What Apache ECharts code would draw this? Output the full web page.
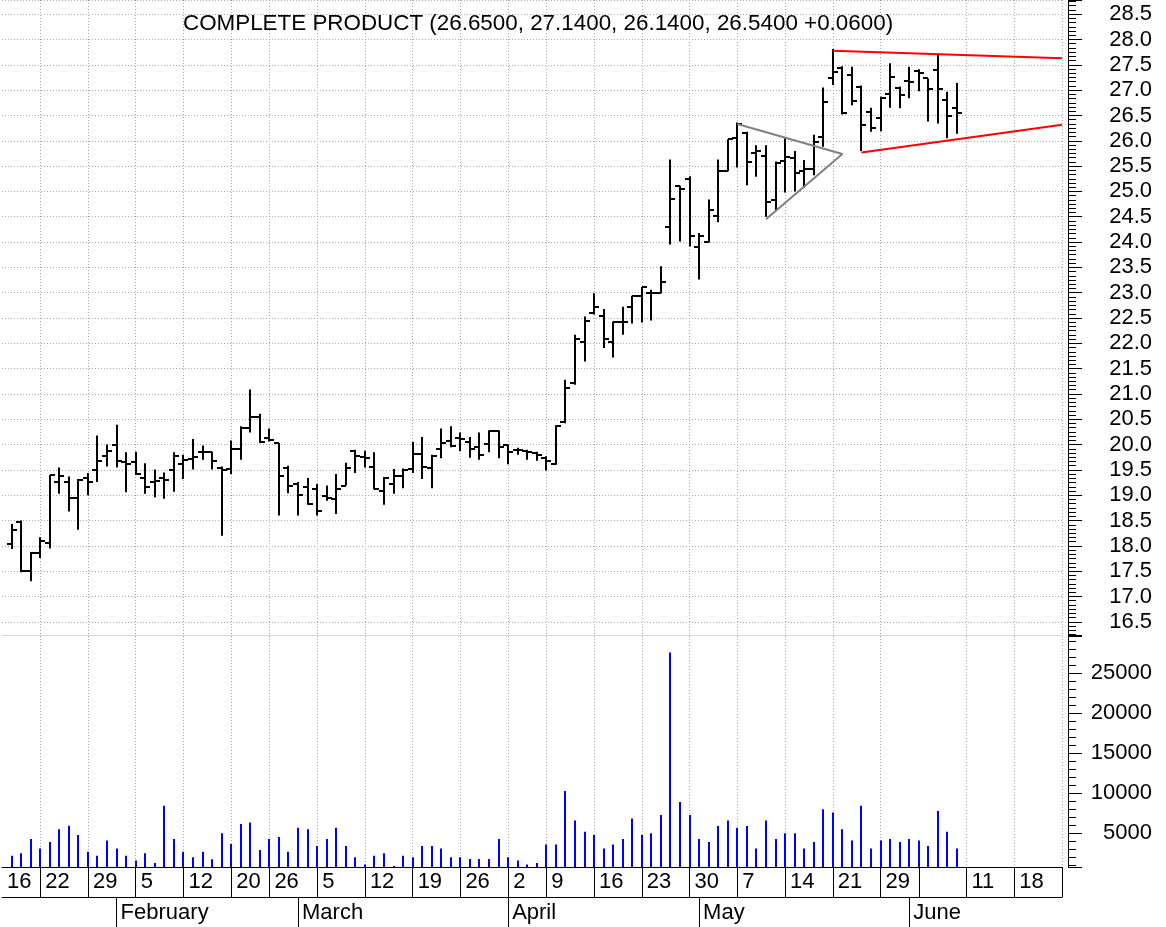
<!DOCTYPE html>
<html>
<head>
<meta charset="utf-8">
<title>Complete Product</title>
<script src="https://cdn.jsdelivr.net/npm/echarts@6/dist/echarts.min.js"></script>
<style>
  html, body { margin: 0; padding: 0; background: #fff; }
  #chart { width: 1166px; height: 927px; }
</style>
</head>
<body>
<div id="chart"></div>
<script>
// trading days on the axis (first one and the last three weeks carry no bar)
const days = [
  '2018-01-16', '2018-01-17', '2018-01-18', '2018-01-19',
  '2018-01-22', '2018-01-23', '2018-01-24', '2018-01-25', '2018-01-26',
  '2018-01-29', '2018-01-30', '2018-01-31', '2018-02-01', '2018-02-02',
  '2018-02-05', '2018-02-06', '2018-02-07', '2018-02-08', '2018-02-09',
  '2018-02-12', '2018-02-13', '2018-02-14', '2018-02-15', '2018-02-16',
  '2018-02-20', '2018-02-21', '2018-02-22', '2018-02-23',
  '2018-02-26', '2018-02-27', '2018-02-28', '2018-03-01', '2018-03-02',
  '2018-03-05', '2018-03-06', '2018-03-07', '2018-03-08', '2018-03-09',
  '2018-03-12', '2018-03-13', '2018-03-14', '2018-03-15', '2018-03-16',
  '2018-03-19', '2018-03-20', '2018-03-21', '2018-03-22', '2018-03-23',
  '2018-03-26', '2018-03-27', '2018-03-28', '2018-03-29', '2018-03-30',
  '2018-04-02', '2018-04-03', '2018-04-04', '2018-04-05',
  '2018-04-09', '2018-04-10', '2018-04-11', '2018-04-12', '2018-04-13',
  '2018-04-16', '2018-04-17', '2018-04-18', '2018-04-19', '2018-04-20',
  '2018-04-23', '2018-04-24', '2018-04-25', '2018-04-26', '2018-04-27',
  '2018-04-30', '2018-05-01', '2018-05-02', '2018-05-03', '2018-05-04',
  '2018-05-07', '2018-05-08', '2018-05-09', '2018-05-10', '2018-05-11',
  '2018-05-14', '2018-05-15', '2018-05-16', '2018-05-17', '2018-05-18',
  '2018-05-21', '2018-05-22', '2018-05-23', '2018-05-24', '2018-05-25',
  '2018-05-29', '2018-05-30', '2018-05-31', '2018-06-01',
  '2018-06-04', '2018-06-05', '2018-06-06', '2018-06-07', '2018-06-08',
  '2018-06-11', '2018-06-12', '2018-06-13', '2018-06-14', '2018-06-15',
  '2018-06-18', '2018-06-19', '2018-06-20', '2018-06-21', '2018-06-22',
  '2018-06-25'
]

const weekTicks = [
  '2018-01-16', '2018-01-22', '2018-01-29', '2018-02-05', '2018-02-12', '2018-02-20',
  '2018-02-26', '2018-03-05', '2018-03-12', '2018-03-19', '2018-03-26', '2018-04-02',
  '2018-04-09', '2018-04-16', '2018-04-23', '2018-04-30', '2018-05-07', '2018-05-14',
  '2018-05-21', '2018-05-29', '2018-06-04', '2018-06-11', '2018-06-18', '2018-06-25'
]
const weekLabels = [
  '16', '22', '29', '5', '12', '20', '26', '5', '12', '19', '26', '2',
  '9', '16', '23', '30', '7', '14', '21', '29', '', '11', '18', ''
]
const monthTicks = ['2018-02-01', '2018-03-01', '2018-04-02', '2018-05-01', '2018-06-01']
const monthLabels = ['February', 'March', 'April', 'May', 'June']

// daily bars, from 2018-01-17
const opens = [
  18.03, 18.47, 17.51, 17.86, 18.05, 19.27, 19.27, 18.95, 19.34, 19.49,
  19.78, 19.99, 19.65, 19.66, 19.34, 19.26, 19.34, 19.49, 19.62, 19.72,
  19.86, 19.85, 19.53, 19.52, 19.91, 20.32, 20.54, 20.14, 20.03, 19.53,
  19.22, 19.16, 19.13, 18.99, 18.93, 19.19, 19.88, 19.75, 19.55, 19.09,
  19.22, 19.38, 19.52, 19.82, 19.53, 19.91, 20.08, 20.14, 20.05, 19.95,
  20.01, 20.26, 19.99, 19.90, 19.88, 19.84, 19.73, 19.62, 20.45, 21.22,
  22.02, 22.60, 22.53, 22.02, 22.43, 22.72, 22.93, 22.99, 22.99, 24.29,
  25.11, 25.25, 23.91, 24.01, 24.51, 25.41, 26.06, 26.15, 25.76, 25.70,
  24.83, 25.60, 25.65, 25.40, 25.45, 26.08, 27.23, 27.44, 27.30, 27.07,
  26.57, 26.45, 26.93, 27.05, 27.18, 27.38, 27.23, 27.39, 26.80, 26.65
]
const highs = [
  18.43, 18.50, 17.88, 18.17, 19.40, 19.55, 19.37, 19.32, 19.44, 20.18,
  20.00, 20.39, 19.85, 19.86, 19.63, 19.51, 19.45, 19.85, 19.80, 20.11,
  19.98, 19.86, 19.57, 20.08, 20.36, 21.09, 20.61, 20.32, 20.03, 19.58,
  19.26, 19.34, 19.22, 19.19, 19.42, 19.64, 19.90, 19.88, 19.85, 19.36,
  19.52, 19.53, 20.05, 20.15, 19.80, 20.32, 20.36, 20.24, 20.15, 20.24,
  20.28, 20.28, 20.00, 19.94, 19.90, 19.86, 19.77, 20.38, 21.28, 22.17,
  22.53, 22.99, 22.68, 22.43, 22.72, 22.94, 23.11, 23.06, 23.52, 25.63,
  25.11, 25.30, 24.18, 24.84, 25.63, 26.03, 26.36, 26.18, 25.91, 25.91,
  25.59, 26.05, 25.80, 25.62, 26.12, 27.05, 27.81, 27.47, 27.46, 27.09,
  26.65, 26.87, 27.53, 27.07, 27.46, 27.41, 27.23, 27.72, 26.97, 27.14
]
const lows = [
  17.94, 17.48, 17.30, 17.76, 17.95, 19.03, 18.68, 18.32, 19.00, 19.26,
  19.57, 19.55, 19.06, 19.40, 19.03, 18.96, 18.93, 19.07, 19.32, 19.51,
  19.70, 19.51, 18.20, 19.42, 19.70, 20.24, 20.03, 20.06, 18.60, 19.04,
  18.60, 18.81, 18.60, 18.89, 18.63, 19.19, 19.44, 19.55, 19.12, 18.81,
  19.03, 19.14, 19.44, 19.32, 19.14, 19.73, 19.95, 19.87, 19.74, 19.70,
  19.85, 19.73, 19.61, 19.80, 19.70, 19.68, 19.49, 19.60, 20.42, 21.18,
  21.64, 22.57, 21.91, 21.72, 22.17, 22.39, 22.41, 22.45, 22.99, 23.95,
  24.01, 23.91, 23.26, 23.99, 24.39, 25.40, 25.47, 25.12, 25.29, 24.50,
  24.61, 24.98, 25.00, 25.07, 25.32, 25.88, 27.10, 26.52, 26.70, 25.80,
  26.18, 26.19, 26.65, 26.64, 26.84, 26.98, 26.38, 26.34, 26.05, 26.14
]
const closes = [
  18.32, 17.51, 17.86, 18.09, 19.39, 19.38, 18.95, 19.31, 19.27, 19.67,
  19.88, 19.67, 19.62, 19.42, 19.16, 19.29, 19.31, 19.78, 19.70, 19.75,
  19.85, 19.68, 19.49, 19.91, 20.32, 20.54, 20.05, 20.09, 19.38, 19.19,
  19.00, 18.83, 18.68, 18.94, 19.13, 19.53, 19.78, 19.74, 19.13, 19.34,
  19.38, 19.49, 19.82, 19.55, 19.77, 20.03, 19.98, 20.12, 19.91, 19.80,
  20.26, 19.95, 19.85, 19.89, 19.86, 19.80, 19.68, 20.36, 21.12, 22.09,
  22.45, 22.72, 22.09, 22.43, 22.43, 22.93, 23.11, 22.99, 23.22, 24.86,
  25.05, 24.11, 24.11, 24.64, 25.41, 26.03, 26.33, 25.59, 25.80, 24.80,
  25.57, 25.68, 25.36, 25.45, 25.98, 26.76, 27.36, 26.55, 26.78, 26.31,
  26.26, 26.85, 27.26, 26.90, 27.16, 27.33, 27.03, 27.03, 26.48, 26.54
]
const volumes = [
  2200, 2500, 4300, 3100, 3900, 5500, 5950, 4800, 2700, 2200,
  4100, 3100, 2200, 1600, 2500, 1300, 8450, 4300, 2700, 2000,
  2700, 1750, 5000, 3650, 6150, 6350, 2900, 4300, 4550, 2700,
  5700, 5500, 3400, 4300, 5700, 3400, 2000, 1100, 2200, 2500,
  900, 2200, 2000, 3400, 3400, 3100, 2000, 2000, 1800, 1800,
  1800, 4300, 2000, 1600, 1100, 1300, 3600, 3600, 10300, 6600,
  5200, 4800, 3100, 3600, 4300, 6850, 4800, 5000, 7300, 27600,
  8900, 7300, 4300, 3900, 5900, 6600, 5700, 5900, 3100, 6600,
  4300, 5000, 5000, 3100, 3900, 8000, 7600, 5500, 4100, 8450,
  3100, 4100, 4300, 3900, 4300, 4100, 3400, 7800, 5200, 3100
]

// drawn trend lines
const wedgeDays = ['2018-05-07', '2018-05-22', '2018-05-10']
const wedgePrices = [26.33, 25.74, 24.45]
const upperDays = ['2018-05-21', '2018-06-25']
const upperPrices = [27.78, 27.63]
const lowerDays = ['2018-05-24', '2018-06-25']
const lowerPrices = [25.77, 26.315]

const titleText = 'COMPLETE PRODUCT (26.6500, 27.1400, 26.1400, 26.5400 +0.0600)'

const FONT = '"Liberation Sans", Arial, sans-serif'
const dotted = { color: '#a8a8a8', width: 1, type: [1, 2] }

const barDays = days.slice(1, 1 + opens.length)
const ohlc = barDays.map((d, i) => [d, opens[i], highs[i], lows[i], closes[i]])
const vol = barDays.map((d, i) => [d, volumes[i]])

const gridDays = weekTicks.slice(1).filter(d => d !== '2018-06-04')
const isGridDay = (i, d) => gridDays.indexOf(d) >= 0
const isWeekTick = (i, d) => weekTicks.indexOf(d) > 0
const isWeekLabel = (i, d) => weekTicks.indexOf(d) >= 0
const isMonth = (i, d) => monthTicks.indexOf(d) >= 0

const chart = echarts.init(document.getElementById('chart'))

function renderOhlc(params, api) {
  const x = Math.round(api.coord([api.value(0), api.value(1)])[0])
  const yo = Math.round(api.coord([api.value(0), api.value(1)])[1])
  const yh = api.coord([api.value(0), api.value(2)])[1]
  const yl = api.coord([api.value(0), api.value(3)])[1]
  const yc = Math.round(api.coord([api.value(0), api.value(4)])[1])
  const style = { stroke: '#000', lineWidth: 2 }
  return {
    type: 'group',
    children: [
      { type: 'line', shape: { x1: x, y1: yh, x2: x, y2: yl }, style },
      { type: 'line', shape: { x1: x - 5, y1: yo, x2: x, y2: yo }, style },
      { type: 'line', shape: { x1: x, y1: yc, x2: x + 5, y2: yc }, style }
    ]
  }
}

function renderVolume(params, api) {
  const top = api.coord([api.value(0), api.value(1)])
  const base = api.coord([api.value(0), 0])
  const x = Math.round(top[0])
  return {
    type: 'rect',
    shape: { x: x - 1, y: top[1], width: 2, height: base[1] - top[1] },
    style: { fill: '#0000ff' }
  }
}

function trend(dates, prices, color) {
  return {
    type: 'line',
    xAxisIndex: 0,
    yAxisIndex: 0,
    data: dates.map((d, i) => [d, prices[i]]),
    symbol: 'none',
    silent: true,
    z: 5,
    lineStyle: { color, width: 2 }
  }
}

const option = {
  animation: false,
  backgroundColor: '#fff',
  textStyle: { fontFamily: FONT },
  title: {
    text: titleText,
    left: 183,
    top: 13,
    padding: 0,
    textStyle: { fontFamily: FONT, fontSize: 22.4, fontWeight: 'normal', color: '#000' }
  },
  grid: [
    { left: 2, top: 0, width: 1060, height: 635, outerBoundsMode: 'none' },
    { left: 2, top: 636, width: 1060, height: 231, outerBoundsMode: 'none' }
  ],
  xAxis: [
    {
      type: 'category',
      gridIndex: 0,
      data: days,
      boundaryGap: false,
      axisLine: { lineStyle: { color: '#d8d8d8' } },
      axisTick: { show: false },
      axisLabel: { show: false },
      splitLine: { show: true, interval: isGridDay, lineStyle: dotted }
    },
    {
      type: 'category',
      gridIndex: 1,
      data: days,
      boundaryGap: false,
      position: 'bottom',
      axisLine: { lineStyle: { color: '#000', width: 1 } },
      axisTick: { show: true, interval: isWeekTick, length: 30, lineStyle: { color: '#000' } },
      axisLabel: {
        interval: isWeekLabel,
        formatter: d => weekLabels[weekTicks.indexOf(d)],
        align: 'left',
        padding: [0, 0, 0, 5],
        margin: 4,
        fontSize: 22,
        color: '#000',
        fontFamily: FONT
      },
      splitLine: { show: true, interval: isGridDay, lineStyle: dotted }
    },
    {
      type: 'category',
      gridIndex: 1,
      data: days,
      boundaryGap: false,
      position: 'bottom',
      offset: 30,
      axisLine: { lineStyle: { color: '#000', width: 1 } },
      axisTick: { show: true, interval: isMonth, length: 30, lineStyle: { color: '#000' } },
      axisLabel: {
        interval: isMonth,
        formatter: d => monthLabels[monthTicks.indexOf(d)],
        align: 'left',
        padding: [0, 0, 0, 4],
        margin: 5,
        fontSize: 22,
        color: '#000',
        fontFamily: FONT
      },
      splitLine: { show: false }
    }
  ],
  yAxis: [
    {
      type: 'value',
      gridIndex: 0,
      position: 'right',
      offset: 6,
      min: 16.24,
      max: 28.78,
      splitNumber: 25,
      axisLine: { show: true, lineStyle: { color: '#000' } },
      axisTick: { show: true, length: 14, lineStyle: { color: '#000' } },
      minorTick: { show: true, splitNumber: 6, length: 8, lineStyle: { color: '#000' } },
      axisLabel: {
        showMinLabel: false,
        showMaxLabel: false,
        formatter: v => v.toFixed(1),
        align: 'right',
        margin: 84,
        padding: [4, 0, 0, 0],
        fontSize: 22,
        color: '#000',
        fontFamily: FONT
      },
      splitLine: { show: true, lineStyle: dotted }
    },
    {
      type: 'value',
      gridIndex: 1,
      position: 'right',
      offset: 6,
      min: 790,
      max: 29660,
      splitNumber: 6,
      axisLine: { show: true, lineStyle: { color: '#000' } },
      axisTick: { show: true, length: 14, lineStyle: { color: '#000' } },
      minorTick: { show: true, splitNumber: 5, length: 8, lineStyle: { color: '#000' } },
      axisLabel: {
        showMinLabel: false,
        showMaxLabel: false,
        formatter: v => String(v),
        align: 'right',
        margin: 84,
        padding: [4, 0, 0, 0],
        fontSize: 22,
        color: '#000',
        fontFamily: FONT
      },
      splitLine: { show: false }
    }
  ],
  series: [
    {
      name: 'price',
      type: 'custom',
      xAxisIndex: 0,
      yAxisIndex: 0,
      data: ohlc,
      encode: { x: 0, y: [1, 2, 3, 4] },
      renderItem: renderOhlc,
      silent: true,
      z: 3
    },
    {
      name: 'volume',
      type: 'custom',
      xAxisIndex: 1,
      yAxisIndex: 1,
      data: vol,
      encode: { x: 0, y: 1 },
      renderItem: renderVolume,
      clip: true,
      silent: true
    },
    trend(wedgeDays, wedgePrices, '#808080'),
    trend(upperDays, upperPrices, '#ff0000'),
    trend(lowerDays, lowerPrices, '#ff0000')
  ]
}

chart.setOption(option)
</script>
</body>
</html>
